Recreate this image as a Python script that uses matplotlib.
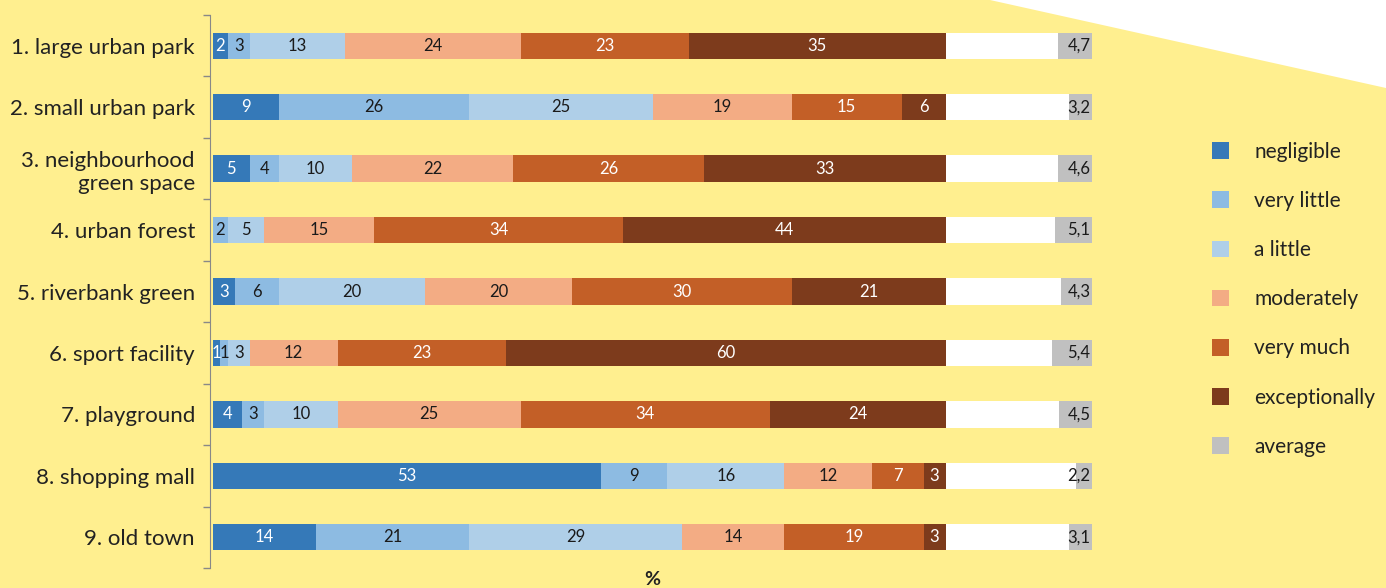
import numpy as np
import matplotlib.pyplot as plt
from matplotlib.patches import Patch, Polygon

plt.rcParams['font.family'] = ['Lato', 'DejaVu Sans']

places = ['1. large urban park', '2. small urban park', '3. neighbourhood\ngreen space',
          '4. urban forest', '5. riverbank green', '6. sport facility',
          '7. playground', '8. shopping mall', '9. old town']
levels = ['negligible', 'very little', 'a little', 'moderately', 'very much', 'exceptionally']
negligible = [2, 9, 5, 0, 3, 1, 4, 53, 14]
very_little = [3, 26, 4, 2, 6, 1, 3, 9, 21]
a_little = [13, 25, 10, 5, 20, 3, 10, 16, 29]
moderately = [24, 19, 22, 15, 20, 12, 25, 12, 14]
very_much = [23, 15, 26, 34, 30, 23, 34, 7, 19]
exceptionally = [35, 6, 33, 44, 21, 60, 24, 3, 3]
average = [4.7, 3.2, 4.6, 5.1, 4.3, 5.4, 4.5, 2.2, 3.1]

colors = ['#3579b8', '#8dbbe2', '#afcfe8', '#f3ac84', '#c35f27', '#7d3b1c']
txt_colors = ['white', '#1a1a1a', '#1a1a1a', '#1a1a1a', 'white', 'white']
avg_color = '#c0c0c0'
bg = '#ffef8f'

series = [negligible, very_little, a_little, moderately, very_much, exceptionally]

fig = plt.figure(figsize=(13.86, 5.88), dpi=100, facecolor=bg)
fig.patches.append(Polygon([(990 / 1386, 1), (1, 1), (1, 1 - 88 / 588)], closed=True,
                           transform=fig.transFigure, facecolor='white', edgecolor='none', zorder=0))
ax = fig.add_axes([213 / 1386, 20 / 588, (1092 - 213) / 1386, (568 - 15) / 588])
ax.set_facecolor('none')

y = np.arange(len(places))
h = 0.43
left = np.zeros(len(places))
for vals, col, tc in zip(series, colors, txt_colors):
    vals = np.array(vals, dtype=float)
    ax.barh(y, vals, left=left, height=h, color=col, linewidth=0)
    for yi, (l, v) in enumerate(zip(left, vals)):
        if v > 0:
            ax.text(l + v / 2, yi, f'{int(v)}', ha='center', va='center', color=tc, fontsize=12)
    left += vals

avg = np.array(average)
ax.barh(y, 20 - avg, left=left, height=h, color='white', linewidth=0)
ax.barh(y, avg, left=120 - avg, height=h, color=avg_color, linewidth=0)
for yi, a in enumerate(avg):
    ax.text(119.8, yi, f'{a:.1f}'.replace('.', ','), ha='right', va='center',
            color='#1a1a1a', fontsize=12)

ax.set_xlim(0, 120)
ax.set_ylim(len(places) - 0.5, -0.5)
ax.set_yticks(y)
ax.set_yticklabels(places, ha='right', linespacing=1.1)
ax.set_yticks(np.arange(-0.5, len(places)), minor=True)
ax.tick_params(axis='y', which='major', length=0, pad=11, labelsize=16, labelcolor='#222222')
ax.tick_params(axis='y', which='minor', length=5, color='#888888', width=1)
ax.set_xticks([])
for s in ['top', 'right', 'bottom']:
    ax.spines[s].set_visible(False)
ax.spines['left'].set_color('#888888')
ax.spines['left'].set_position(('outward', 2))
ax.set_xlabel('%', fontsize=14, fontweight='bold', color='#222222', labelpad=2)

handles = [Patch(facecolor=c, edgecolor='none') for c in colors + [avg_color]]
ax.legend(handles, levels + ['average'], loc='upper left', bbox_to_anchor=(1193 / 1386, 1 - 123 / 588),
          bbox_transform=fig.transFigure, frameon=False, fontsize=15, handlelength=0.85,
          handleheight=0.85, handletextpad=1.2, labelspacing=1.4, labelcolor='#222222')

fig.savefig('out.png', dpi=100, facecolor=bg)
